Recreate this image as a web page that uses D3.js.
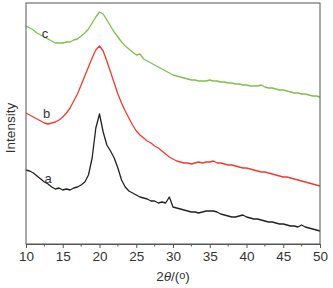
<!DOCTYPE html>
<html>
<head>
<meta charset="utf-8">
<script src="https://cdn.jsdelivr.net/npm/d3@7"></script>
<style>
  body { margin: 0; background: #fff; }
  text { font-family: "Liberation Sans", Arial, sans-serif; }
</style>
</head>
<body>
<div id="chart"></div>
<script>
// 2theta from 10 to 50 in 0.5 steps
const angles = [10,10.5,11,11.5,12,12.5,13,13.5,14,14.5,15,15.5,16,16.5,17,17.5,18,18.5,19,19.5,
  20,20.5,21,21.5,22,22.5,23,23.5,24,24.5,25,25.5,26,26.5,27,27.5,28,28.5,29,29.5,
  30,30.5,31,31.5,32,32.5,33,33.5,34,34.5,35,35.5,36,36.5,37,37.5,38,38.5,39,39.5,
  40,40.5,41,41.5,42,42.5,43,43.5,44,44.5,45,45.5,46,46.5,47,47.5,48,48.5,49,49.5,50];

// intensity (a.u., curves offset as in the figure)
const seriesA = [74,73,71,68,65,62,60,57,55,56,54,55,54,56,57,59,62,69,86,116,
  130,112,99,93,86,76,64,57,53,51,49,47,46,45,43,43,41,42,41,47,
  37,36,35,34,33,32,32,31,32,33,33,33,32,30,29,28,27,27,28,29,
  27,26,25,25,24,23,22,22,21,20,20,19,18,18,17,19,17,16,15,14,13];
const seriesB = [131,129,127,125,123,121,120,121,122,124,127,131,136,143,150,159,168,177,186,194,
  198,193,183,172,161,150,141,133,126,119,113,109,106,103,101,98,96,93,90,87,
  85,83,82,81,81,80,81,82,81,82,82,83,81,81,80,79,79,78,77,76,
  76,75,74,73,72,72,71,70,69,68,67,67,66,65,64,63,62,61,60,59,58];
const seriesC = [218,216,214,211,209,207,205,203,201,201,201,202,202,204,205,208,211,215,221,227,
  232,230,224,218,212,207,202,198,195,192,189,190,185,183,181,179,177,175,173,171,
  169,168,167,166,165,164,164,163,163,163,164,163,163,162,162,161,161,160,160,159,
  159,158,158,158,159,157,156,156,155,154,154,153,152,151,151,150,150,149,148,148,147];

const seriesNames = ["a", "b", "c"];
const seriesColors = ["#222222", "#ef3b2e", "#80c04e"];
const labelAngles = [13, 12.8, 12.6];
const labelValues = [66, 131, 211];
const xTicks = [10, 15, 20, 25, 30, 35, 40, 45, 50];

const W = 333, H = 288;
const margin = { top: 3, right: 13, bottom: 44, left: 26 };
const width = W - margin.left - margin.right;
const height = H - margin.top - margin.bottom;

const x = d3.scaleLinear().domain([10, 50]).range([0, width]);
const y = d3.scaleLinear().domain([0, 241]).range([height, 0]);

const svg = d3.select("#chart").append("svg")
  .attr("width", W).attr("height", H);

const g = svg.append("g")
  .attr("transform", `translate(${margin.left},${margin.top})`);

const line = d3.line()
  .x((d, i) => x(angles[i]))
  .y(d => y(d));

[seriesA, seriesB, seriesC].forEach((s, k) => {
  g.append("path")
    .datum(s)
    .attr("fill", "none")
    .attr("stroke", seriesColors[k])
    .attr("stroke-width", 1.3)
    .attr("stroke-linejoin", "round")
    .attr("d", line);

  g.append("text")
    .attr("x", x(labelAngles[k]))
    .attr("y", y(labelValues[k]))
    .attr("text-anchor", "middle")
    .attr("dy", "0.35em")
    .attr("font-size", 13)
    .attr("fill", "#333")
    .text(seriesNames[k]);
});

// frame
g.append("rect")
  .attr("width", width).attr("height", height)
  .attr("fill", "none").attr("stroke", "#555").attr("stroke-width", 1);

const xAxis = d3.axisBottom(x)
  .tickValues(xTicks)
  .tickSize(4)
  .tickSizeOuter(0)
  .tickPadding(3);

const ax = g.append("g")
  .attr("transform", `translate(0,${height})`)
  .call(xAxis);
ax.select(".domain").attr("stroke", "#555");
ax.selectAll(".tick line").attr("stroke", "#555");
ax.selectAll(".tick text").attr("font-size", 13.5).attr("fill", "#333")
  .attr("font-family", "Liberation Sans, Arial, sans-serif");

// minor ticks
ax.selectAll(".minor")
  .data(d3.range(12.5, 50, 5))
  .join("line")
  .attr("x1", d => x(d)).attr("x2", d => x(d))
  .attr("y1", 0).attr("y2", 2.5)
  .attr("stroke", "#555");

// axis titles
const xt = svg.append("text")
  .attr("x", margin.left + width / 2)
  .attr("y", H - 7)
  .attr("text-anchor", "middle")
  .attr("font-size", 13.5)
  .attr("fill", "#333");
xt.append("tspan").text("2");
xt.append("tspan").attr("font-style", "italic").text("θ");
xt.append("tspan").text("/(");
xt.append("tspan").attr("font-size", 11).attr("dy", -2).text("o");
xt.append("tspan").attr("dy", 2).text(")");

svg.append("text")
  .attr("transform", `translate(15,${margin.top + 125}) rotate(-90)`)
  .attr("text-anchor", "middle")
  .attr("font-size", 13.5)
  .attr("fill", "#333")
  .text("Intensity");
</script>
</body>
</html>
